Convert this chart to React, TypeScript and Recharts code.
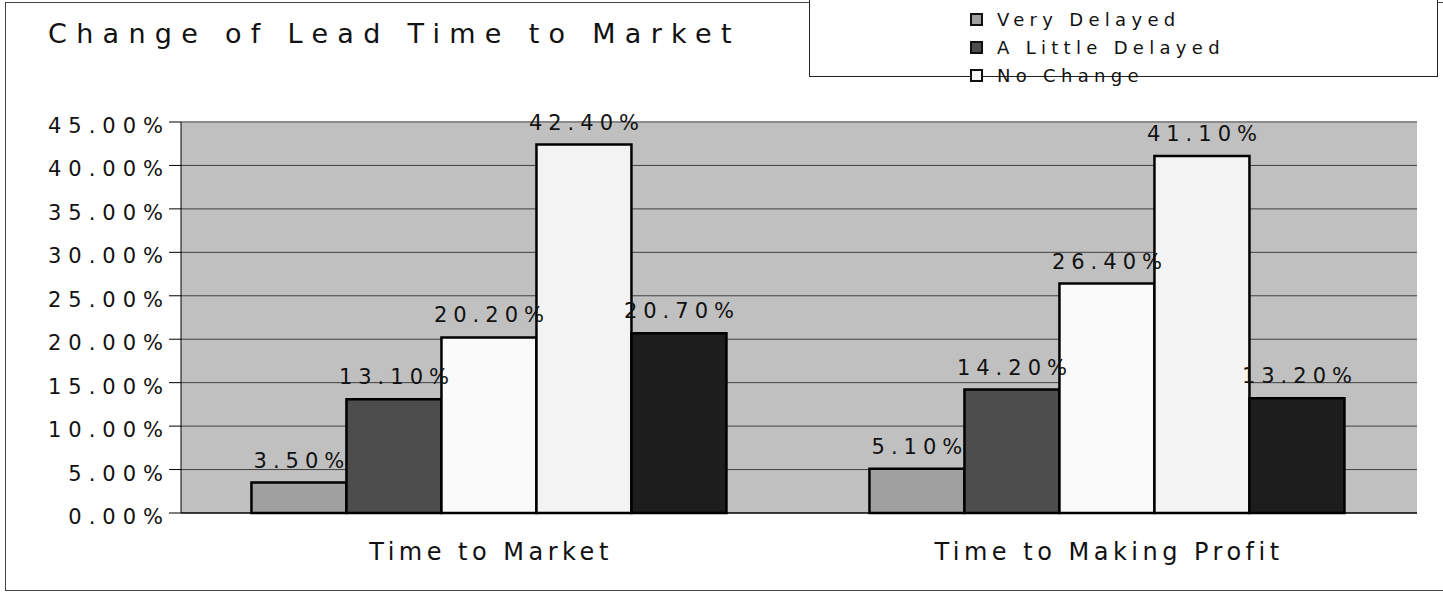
import {
  BarChart,
  Bar,
  XAxis,
  YAxis,
  CartesianGrid,
  ReferenceLine,
  LabelList,
  Legend,
} from "recharts";

const CATEGORIES = ["Time to Market", "Time to Making Profit"];
const VERY_DELAYED = [3.5, 5.1];
const LITTLE_DELAYED = [13.1, 14.2];
const NO_CHANGE = [20.2, 26.4];
const LITTLE_SHORTENED = [42.4, 41.1];
const VERY_SHORTENED = [20.7, 13.2];

const Y_TICKS = [0, 5, 10, 15, 20, 25, 30, 35, 40, 45];
const GRID_VALUES = [5, 10, 15, 20, 25, 30, 35, 40];
const EDGE_TICKS = [0, 1, 2];

const SERIES = [
  { key: "veryDelayed", name: "Very Delayed", values: VERY_DELAYED, fill: "#a0a0a0" },
  { key: "littleDelayed", name: "A Little Delayed", values: LITTLE_DELAYED, fill: "#4d4d4d" },
  { key: "noChange", name: "No Change", values: NO_CHANGE, fill: "#fafafa" },
  { key: "littleShortened", name: "A Little Shortened", values: LITTLE_SHORTENED, fill: "#f3f3f3" },
  { key: "veryShortened", name: "Very Shortened", values: VERY_SHORTENED, fill: "#1d1d1d" },
];

const data = CATEGORIES.map((category, i) => {
  const row: Record<string, string | number> = { category };
  SERIES.forEach((s) => {
    row[s.key] = s.values[i];
  });
  return row;
});

const FONT = '"DejaVu Sans", Verdana, sans-serif';

function YTick(props: any) {
  const { x, y, payload } = props;
  return (
    <text
      x={x}
      y={y}
      dx={3}
      dy={11}
      textAnchor="end"
      fontFamily={FONT}
      fontSize={21}
      letterSpacing={7}
      fill="#111"
    >
      {Number(payload.value).toFixed(2)}%
    </text>
  );
}

function XTick(props: any) {
  const { x, y, payload } = props;
  return (
    <text
      x={x}
      y={y}
      dx={1}
      dy={47}
      textAnchor="middle"
      fontFamily={FONT}
      fontSize={24}
      letterSpacing={4.5}
      fill="#111"
    >
      {payload.value}
    </text>
  );
}

function BarLabel(props: any) {
  const vb = props.viewBox ?? props;
  const x = Number(vb.x);
  const y = Number(vb.y);
  const w = Number(vb.width);
  return (
    <text
      x={x + w / 2}
      y={y - 15}
      dx={3}
      textAnchor="middle"
      fontFamily={FONT}
      fontSize={21}
      letterSpacing={6}
      fill="#111"
    >
      {Number(props.value).toFixed(2)}%
    </text>
  );
}

function LegendBox(props: any) {
  const items = (props.payload ?? []).slice(0, 3);
  return (
    <div style={{ paddingTop: 16, paddingLeft: 160 }}>
      {items.map((item: any) => (
        <div
          key={item.value}
          style={{ height: 28, display: "flex", alignItems: "center" }}
        >
          <span
            style={{
              display: "inline-block",
              width: 9,
              height: 9,
              border: "2px solid #111",
              background: item.color,
            }}
          />
          <span
            style={{
              marginLeft: 14,
              fontFamily: FONT,
              fontSize: 18,
              letterSpacing: 5.3,
              color: "#111",
            }}
          >
            {item.value}
          </span>
        </div>
      ))}
    </div>
  );
}

const legendOrder = (item: any) => SERIES.findIndex((s) => s.name === item.value);

export default function App() {
  return (
    <div
      style={{
        position: "absolute",
        left: 0,
        top: 0,
        width: 1443,
        height: 592,
        overflow: "hidden",
        background: "#fff",
      }}
    >
      <div
        style={{
          position: "absolute",
          left: 5,
          top: 2,
          width: 1500,
          height: 589,
          border: "1px solid #444",
          boxSizing: "border-box",
          pointerEvents: "none",
        }}
      />
      <div
        style={{
          position: "absolute",
          left: 48,
          top: 20,
          fontFamily: FONT,
          fontSize: 27,
          lineHeight: "28px",
          letterSpacing: 9.3,
          color: "#111",
          whiteSpace: "nowrap",
        }}
      >
        Change of Lead Time to Market
      </div>
      <BarChart
        width={1443}
        height={592}
        data={data}
        margin={{ top: 122, right: 26, bottom: 39, left: 21 }}
        barCategoryGap="11.4%"
        barGap={0}
      >
        <CartesianGrid
          vertical={false}
          fill="#c0c0c0"
          fillOpacity={1}
          stroke="#404040"
          horizontalValues={GRID_VALUES}
        />
        <XAxis
          xAxisId="edges"
          type="number"
          domain={[0, 2]}
          ticks={EDGE_TICKS}
          tick={false}
          axisLine={false}
          tickSize={9}
          tickLine={{ stroke: "#000" }}
          height={0}
        />
        <XAxis
          dataKey="category"
          tick={<XTick />}
          tickLine={false}
          tickSize={0}
          tickMargin={0}
          axisLine={{ stroke: "#000", strokeWidth: 1.5 }}
          height={40}
          interval={0}
        />
        <YAxis
          type="number"
          domain={[0, 45]}
          ticks={Y_TICKS}
          tick={<YTick />}
          tickSize={12}
          tickLine={{ stroke: "#000" }}
          axisLine={{ stroke: "#000" }}
          width={160}
        />
        <ReferenceLine y={45} stroke="#8a8a8a" strokeWidth={2} />
        <ReferenceLine xAxisId="edges" x={2} stroke="#8a8a8a" strokeWidth={2} />
        <Legend
          layout="horizontal"
          verticalAlign="middle"
          align="center"
          itemSorter={legendOrder}
          content={<LegendBox />}
          wrapperStyle={{
            position: "absolute",
            left: 809,
            top: -12,
            width: 629,
            height: 89,
            border: "1px solid #222",
            boxSizing: "border-box",
            background: "#fff",
          }}
        />
        {SERIES.map((s) => (
          <Bar
            key={s.key}
            dataKey={s.key}
            name={s.name}
            fill={s.fill}
            stroke="#000"
            strokeWidth={2.5}
            isAnimationActive={false}
          >
            <LabelList dataKey={s.key} content={<BarLabel />} />
          </Bar>
        ))}
      </BarChart>
    </div>
  );
}
